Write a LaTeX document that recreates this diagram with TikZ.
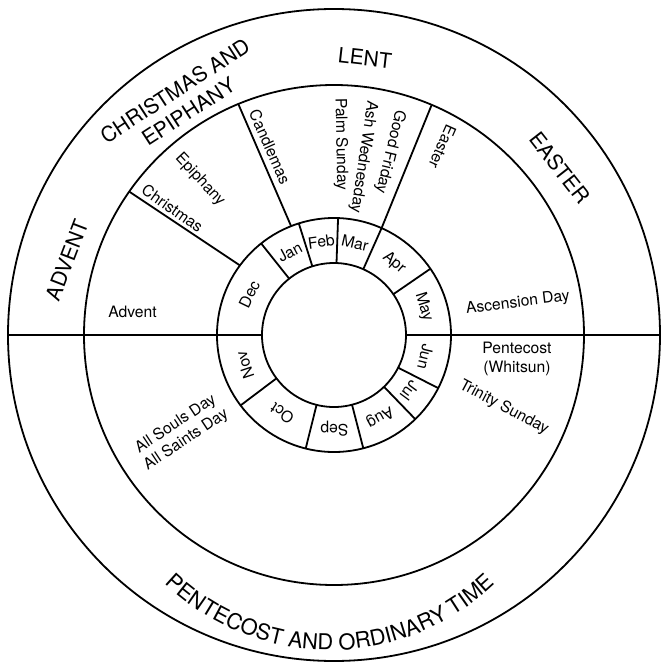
\documentclass[tikz,border=0pt]{standalone}
\usepackage{fontspec}
\setmainfont{TeX Gyre Heros}
\usetikzlibrary{decorations.text}

\newcommand{\seasonfont}{\fontsize{10.5}{12.5}\selectfont}

\begin{document}
\begin{tikzpicture}[x=0.5pt, y=0.5pt, line width=0.9pt,
        feast/.style={font=\fontsize{7.85}{9.5}\selectfont, align=center, inner sep=0pt},
        season/.style={font=\seasonfont, align=center, inner sep=0pt}]
    \useasboundingbox (-334,-330) rectangle (329,335);
    \coordinate (o) at (0,0);
    \draw (o) circle[radius=326];
    \draw (o) circle[radius=250];
    \draw (o) circle[radius=117];
    \draw (o) circle[radius=72];
    \draw (180:326) -- (180:72);
    \draw (0:72) -- (0:326);
    \foreach \a in {128.5,107.5,88,66,34.5,-27,-46,-75.5,-104,-143}
        \draw (\a:72) -- (\a:117);
    \draw (143.5:117) -- (145:250);
    \draw (111.5:117) -- (112.5:250);
    \draw (66:117) -- (67:250);
    \foreach \a/\m in {154.25/Dec,118/Jan,97.75/Feb,77/Mar,50.25/Apr,17.25/May,
            -13.5/Jun,-36.5/Jul,-60.75/Aug,-89.75/Sep,-123.5/Oct,-161.5/Nov}
        \node[feast, rotate=\a-90] (\m) at (\a:94) {\m};
    \node[feast] (advent) at (-201.5,23) {Advent};
    \node[feast, rotate=-35] (christmas) at (-161.5,126.7) {Christmas};
    \node[feast, rotate=-47] (epiphany) at (-134,155) {Epiphany};
    \node[feast, rotate=-66] (candlemas) at (-64,188.3) {Candlemas};
    \node[feast, rotate=-89] (palm) at (6.7,190.7) {Palm Sunday};
    \node[feast, rotate=-98.5] (ash) at (29.3,178.3) {Ash Wednesday};
    \node[feast, rotate=-103.5] (goodfriday) at (56,183.3) {Good Friday};
    \node[feast, rotate=-114] (easter) at (108.5,188.3) {Easter};
    \node[feast, rotate=7] (ascension) at (184,32) {Ascension Day};
    \node[feast] (pentecost) at (183,-23.5) {Pentecost\\(Whitsun)};
    \node[feast, rotate=-28] (trinity) at (170,-72.5) {Trinity Sunday};
    \node[feast, rotate=33.5] (saints) at (-153,-97) {All Souls Day\\All Saints Day};
    \node[season, rotate=69] (adventseason) at (-267.3,75) {ADVENT};
    \node[season, rotate=33] (christmasseason) at (-152.3,234) {CHRISTMAS AND\\EPIPHANY};
    \node[season, rotate=-6.5] (lent) at (31,277) {LENT};
    \node[season, rotate=-52] (eastertide) at (226,167) {EASTER};
    \path[decorate, decoration={text along path, text align=center,
            text={|\fontsize{10.9}{12}\selectfont|PENTECOST AND ORDINARY TIME}}]
        (-4,-76) ++(-150:239) arc[start angle=-150, end angle=-30, radius=239];
\end{tikzpicture}
\end{document}
